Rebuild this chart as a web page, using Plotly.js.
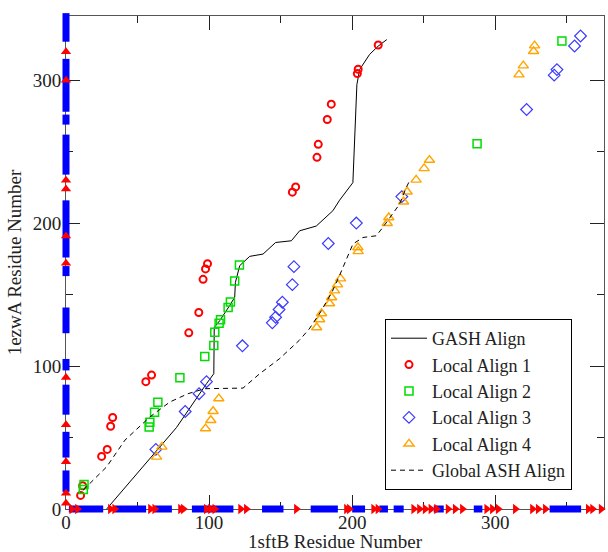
<!DOCTYPE html>
<html>
<head>
<meta charset="utf-8">
<script src="https://cdn.plot.ly/plotly-3.0.1.min.js"></script>
<style>html,body{margin:0;padding:0;background:#fff;}#chart{width:608px;height:552px;}</style>
</head>
<body>
<div id="chart"></div>
<script>
// ---- Data ----
const gashX = [28.4, 63.3, 77.2, 98.2, 103.3, 103.6, 107.5, 114.4, 117.9, 118.4, 121.4, 128.4, 137.7, 146.5, 157.5, 163.3, 174.9, 186.5, 191.2, 200.5, 201.2, 202.2, 203.3, 205.2, 212.1, 218.0, 224.2];
const gashY = [0, 41.2, 57.0, 87.7, 94.7, 127.0, 131.9, 142.4, 148.2, 158.6, 170.3, 176.8, 178.4, 186.5, 187.7, 194.7, 198.0, 208.7, 216.1, 228.4, 245.9, 279.6, 297.0, 307.5, 318.0, 323.8, 328.5];

const ashX = [12.1, 28.4, 41.2, 58.6, 72.6, 85.3, 97.0, 123.7, 135.4, 149.0, 163.0, 170.0, 178.0, 186.0, 191.0, 195.9, 200.5, 207.5, 216.8, 221.4, 228.4, 233.1, 237.8, 240.1];
const ashY = [13.3, 29.5, 48.2, 64.4, 74.9, 80.7, 84.2, 84.6, 94.7, 105.0, 118.0, 126.0, 138.0, 152.0, 163.0, 175.0, 185.4, 190.0, 191.2, 197.0, 206.4, 213.3, 225.0, 229.6];

const local1X = [10.2, 11.6, 24.9, 28.8, 31.2, 32.6, 55.8, 59.8, 85.8, 92.8, 95.8, 97.5, 98.9, 158.2, 160.5, 175.4, 176.3, 182.6, 185.4, 203.6, 204.2, 218.2];
const local1Y = [9.5, 16.3, 36.8, 41.7, 57.9, 64.0, 89.1, 93.7, 123.3, 137.5, 160.7, 168.0, 171.7, 221.7, 225.4, 246.1, 255.2, 272.6, 283.3, 304.7, 307.7, 324.7];

const local2X = [12.6, 12.1, 58.1, 58.6, 61.9, 64.2, 79.6, 97.0, 103.3, 104.0, 107.0, 108.0, 113.3, 114.9, 117.9, 121.2, 287.3, 346.6];
const local2Y = [17.2, 13.7, 57.4, 60.7, 67.7, 74.7, 91.9, 106.8, 114.4, 123.7, 130.0, 132.4, 141.0, 144.9, 159.6, 170.8, 255.6, 327.5];

const local3X = [62.8, 83.3, 93.0, 98.2, 123.3, 144.2, 146.5, 148.9, 151.2, 158.2, 159.3, 183.3, 202.9, 234.7, 321.9, 341.2, 343.1, 355.4, 359.6];
const local3Y = [41.7, 68.2, 80.7, 89.1, 114.2, 130.3, 134.2, 139.6, 144.7, 157.0, 169.6, 185.8, 200.1, 218.6, 279.6, 303.6, 307.5, 324.0, 331.0];

const local4X = [63.3, 67.0, 97.5, 101.2, 102.8, 106.8, 175.2, 177.3, 178.6, 184.2, 185.6, 187.7, 189.8, 191.9, 204.0, 204.2, 224.5, 225.6, 235.9, 238.4, 244.7, 250.3, 254.0, 316.6, 319.6, 326.8, 327.5];
const local4Y = [36.5, 43.5, 56.3, 62.1, 68.4, 77.3, 127.0, 132.6, 136.8, 143.8, 148.0, 152.8, 157.0, 161.2, 183.0, 180.3, 200.0, 204.0, 215.0, 222.0, 230.3, 238.4, 244.2, 304.0, 310.3, 320.3, 324.3];

// Secondary-structure marks along the axes
const xHelixStart = [2, 34, 62, 88, 137, 171, 200, 219, 229, 257, 285, 338];
const xHelixEnd   = [26, 56, 74, 117, 152, 190, 209, 225, 236, 264, 291, 360];
const xStrand = [4, 8, 31, 34, 59, 62, 80, 82, 98, 101, 104, 122, 126, 161, 196, 198, 215, 218, 243, 247, 251, 255, 259, 267, 272, 277, 294, 298, 302, 314, 326, 330, 335, 365, 368, 374];

const yHelixStart = [327, 278, 269, 234, 176, 163, 123, 97, 66, 36, 12];
const yHelixEnd   = [347, 315, 276, 262, 216, 170, 141, 105, 87, 54, 27];
const yStrand = [320, 300, 224, 230, 191, 172, 92, 59, 33, 11, 4];

const legendNames = ["GASH Align", "Local Align 1", "Local Align 2", "Local Align 3", "Local Align 4", "Global ASH Align"];
const xTitle = "1sftB Residue Number";
const yTitle = "1ezwA Residue Number";

// ---- Build traces ----
function segs(starts, ends, horizontal) {
  const a = [], b = [];
  for (let i = 0; i < starts.length; i++) {
    if (horizontal) { a.push(starts[i], ends[i], null); b.push(0, 0, null); }
    else { a.push(0, 0, null); b.push(starts[i], ends[i], null); }
  }
  return [a, b];
}
const [hxX, hxY] = segs(xHelixStart, xHelixEnd, true);
const [hyX, hyY] = segs(yHelixStart, yHelixEnd, false);

const FONT = "Liberation Serif, Times New Roman, serif";
const traces = [
  {x: gashX, y: gashY, mode: "lines", name: legendNames[0], line: {color: "#000", width: 1}},
  {x: local1X, y: local1Y, mode: "markers", name: legendNames[1], marker: {symbol: "circle-open", size: 7, color: "#ff0000", line: {width: 2, color: "#ff0000"}}},
  {x: local2X, y: local2Y, mode: "markers", name: legendNames[2], marker: {symbol: "square-open", size: 8, color: "#00dd00", line: {width: 1.5, color: "#00dd00"}}},
  {x: local3X, y: local3Y, mode: "markers", name: legendNames[3], marker: {symbol: "diamond-open", size: 9, color: "#3a3aff", line: {width: 1.2, color: "#3a3aff"}}},
  {x: local4X, y: local4Y, mode: "markers", name: legendNames[4], marker: {symbol: "triangle-up-open", size: 9, color: "#ffa500", line: {width: 1.4, color: "#ffa500"}}},
  {x: ashX, y: ashY, mode: "lines", name: legendNames[5], line: {color: "#000", width: 1, dash: "5px,4px"}},
  // axis secondary structure on an overlay subplot (so the thick bars are not clipped)
  {x: hxX, y: hxY, xaxis: "x2", yaxis: "y2", mode: "lines", showlegend: false, hoverinfo: "skip", line: {color: "#0000ff", width: 7}},
  {x: hyX, y: hyY, xaxis: "x2", yaxis: "y2", mode: "lines", showlegend: false, hoverinfo: "skip", line: {color: "#0000ff", width: 7}},
  {x: xStrand, y: xStrand.map(() => 0), xaxis: "x2", yaxis: "y2", mode: "markers", showlegend: false, cliponaxis: false, hoverinfo: "skip", marker: {symbol: "triangle-right", size: 9, color: "#ff0000"}},
  {x: yStrand.map(() => 0), y: yStrand, xaxis: "x2", yaxis: "y2", mode: "markers", showlegend: false, cliponaxis: false, hoverinfo: "skip", marker: {symbol: "triangle-up", size: 9, color: "#ff0000"}}
];

// ---- Layout ----
const W = 608, H = 552;
const M = {l: 56, r: 0, t: 6, b: 33};
const pw = W - M.l - M.r, ph = H - M.t - M.b;
const X0 = 66, X1 = 604, Y0 = 509, Y1 = 16; // plot frame in px
const XMAX = 376, YMAX = 345;
const xd = [(X0 - M.l) / pw, (X1 - M.l) / pw];
const yd = [(H - M.b - Y0) / ph, (H - M.b - Y1) / ph];
const ux = XMAX / (X1 - X0), uy = YMAX / (Y0 - Y1);

const axisCommon = {
  showline: true, mirror: "ticks", linecolor: "#555", linewidth: 1,
  ticks: "inside", ticklen: 14, tickwidth: 1, tickcolor: "#222",
  tick0: 0, dtick: 100, showgrid: false, zeroline: false,
  minor: {dtick: 50, ticks: "inside", ticklen: 7, tickcolor: "#222", tickwidth: 1},
  tickfont: {family: FONT, size: 19, color: "#222"},
  fixedrange: true
};

const layout = {
  width: W, height: H,
  margin: {l: M.l, r: M.r, t: M.t, b: M.b, pad: 0},
  paper_bgcolor: "#fff", plot_bgcolor: "rgba(0,0,0,0)",
  showlegend: true,
  font: {family: FONT, color: "#222"},
  xaxis: Object.assign({}, axisCommon, {domain: xd, range: [0, XMAX], ticklabelstandoff: -4,
    title: {text: xTitle, font: {family: FONT, size: 19, color: "#222"}, standoff: 8}}),
  yaxis: Object.assign({}, axisCommon, {domain: yd, range: [0, YMAX],
    title: {text: yTitle, font: {family: FONT, size: 19, color: "#222"}, standoff: 6}}),
  xaxis2: {domain: [0, 1], range: [-(X0 - M.l) * ux, XMAX + (W - M.r - X1) * ux], visible: false, anchor: "y2", fixedrange: true},
  yaxis2: {domain: [0, 1], range: [-(H - M.b - Y0) * uy, YMAX + (Y1 - M.t) * uy], visible: false, anchor: "x2", fixedrange: true},
  legend: {
    x: (385 - M.l) / pw, xanchor: "left",
    y: (H - M.b - 319) / ph, yanchor: "top",
    bgcolor: "#fff", bordercolor: "#000", borderwidth: 1,
    font: {family: FONT, size: 18, color: "#222"},
    tracegroupgap: 0, itemwidth: 36
  }
};

Plotly.newPlot("chart", traces, layout, {staticPlot: true, displayModeBar: false});
</script>
</body>
</html>
